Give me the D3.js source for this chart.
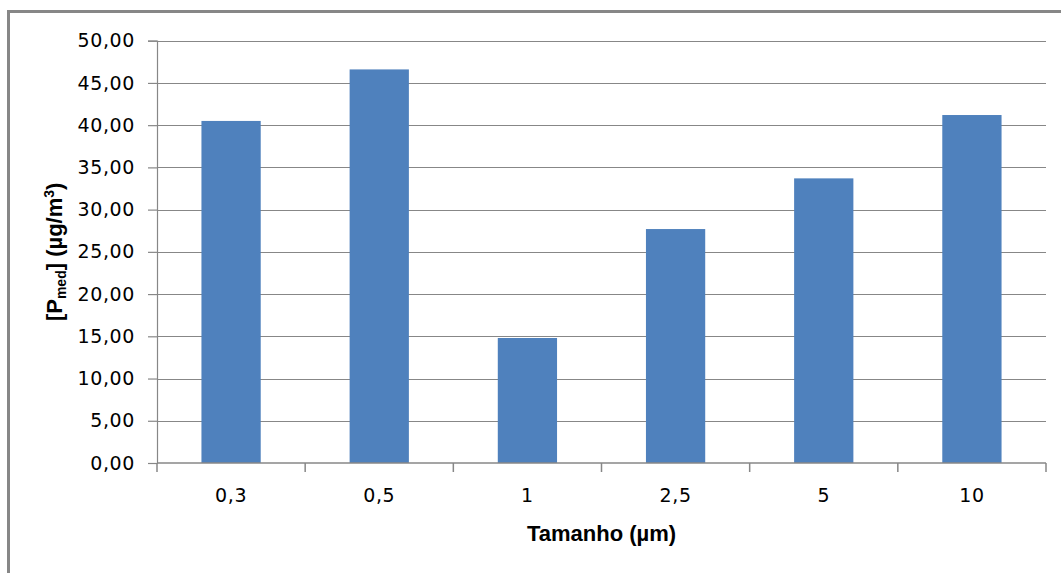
<!DOCTYPE html>
<html>
<head>
<meta charset="utf-8">
<script src="https://cdn.jsdelivr.net/npm/d3@7/dist/d3.min.js"></script>
<style>
  html, body { margin: 0; padding: 0; background: #fff; }
  svg { display: block; }
  .tick text { font-family: "DejaVu Sans", sans-serif; fill: #000; }
</style>
</head>
<body>
<svg id="chart" width="1061" height="573"></svg>
<script>
// Particle size classes (µm) and mean concentration per class
const categories = ["0,3", "0,5", "1", "2,5", "5", "10"];
const concentrations = [40.5, 46.6, 14.8, 27.7, 33.7, 41.2];
const yTicks = [0, 5, 10, 15, 20, 25, 30, 35, 40, 45, 50];

const W = 1061, H = 573;
const plot = { left: 157, right: 1046, top: 40.7, bottom: 463 };
const gridColor = "#878787";
const barColor = "#4F81BD";

const svg = d3.select("#chart");

// outer chart frame
svg.append("rect")
  .attr("x", 8.5).attr("y", 11.5)
  .attr("width", W + 20).attr("height", H + 20)
  .attr("fill", "#fff")
  .attr("stroke", gridColor)
  .attr("stroke-width", 3);

const x = d3.scaleBand()
  .domain(categories)
  .range([plot.left, plot.right])
  .paddingInner(0.6)
  .paddingOuter(0.3);

const y = d3.scaleLinear()
  .domain([0, 50])
  .range([plot.bottom, plot.top]);

const ptBR = d3.formatLocale({ decimal: ",", thousands: ".", grouping: [3], currency: ["R$", ""] });
const fmt = ptBR.format(".2f");

// horizontal gridlines
svg.append("g")
  .selectAll("line")
  .data(yTicks.filter(d => d > 0))
  .join("line")
  .attr("x1", plot.left).attr("x2", plot.right)
  .attr("y1", d => Math.round(y(d)) + 0.5)
  .attr("y2", d => Math.round(y(d)) + 0.5)
  .attr("stroke", gridColor)
  .attr("stroke-width", 1.2);

// bars
svg.append("g")
  .selectAll("rect")
  .data(concentrations)
  .join("rect")
  .attr("x", (d, i) => x(categories[i]))
  .attr("width", x.bandwidth())
  .attr("y", d => y(d))
  .attr("height", d => y(0) - y(d))
  .attr("fill", barColor);

// y axis
const yAxis = svg.append("g")
  .attr("transform", `translate(${plot.left},0)`)
  .call(d3.axisLeft(y).tickValues(yTicks).tickFormat(fmt).tickSize(9).tickPadding(13));
yAxis.select(".domain").attr("stroke", gridColor).attr("stroke-width", 1.2);
yAxis.selectAll(".tick line").attr("stroke", gridColor).attr("stroke-width", 1.2);
yAxis.selectAll(".tick text").style("font-size", "19px").style("letter-spacing", "0.6px");

// x axis baseline and category boundary ticks
const step = x.step();
const boundaries = d3.range(categories.length + 1).map(i => plot.left + i * step);
const xAxis = svg.append("g");
xAxis.append("line")
  .attr("x1", plot.left).attr("x2", plot.right)
  .attr("y1", y(0)).attr("y2", y(0))
  .attr("stroke", gridColor).attr("stroke-width", 1.5);
xAxis.selectAll("line.b")
  .data(boundaries)
  .join("line")
  .attr("class", "b")
  .attr("x1", d => d).attr("x2", d => d)
  .attr("y1", y(0)).attr("y2", y(0) + 9)
  .attr("stroke", gridColor).attr("stroke-width", 1.5);
xAxis.selectAll("text")
  .data(categories)
  .join("text")
  .attr("x", d => x(d) + x.bandwidth() / 2)
  .attr("y", y(0) + 39)
  .attr("text-anchor", "middle")
  .style("font-family", "DejaVu Sans, sans-serif")
  .style("font-size", "19px")
  .style("letter-spacing", "0.6px")
  .text(d => d);

// axis titles
svg.append("text")
  .attr("x", (plot.left + plot.right) / 2)
  .attr("y", 541)
  .attr("text-anchor", "middle")
  .style("font-family", "Liberation Sans, sans-serif")
  .style("font-weight", "bold")
  .style("font-size", "22px")
  .text("Tamanho (µm)");

const yTitle = svg.append("text")
  .attr("transform", `translate(62,${(plot.top + plot.bottom) / 2}) rotate(-90)`)
  .attr("text-anchor", "middle")
  .style("font-family", "Liberation Sans, sans-serif")
  .style("font-weight", "bold")
  .style("font-size", "22px");
yTitle.append("tspan").text("[P");
yTitle.append("tspan").attr("dy", 4).style("font-size", "14px").text("med");
yTitle.append("tspan").attr("dy", -4).text("] (µg/m");
yTitle.append("tspan").attr("dy", -8).style("font-size", "14px").text("3");
yTitle.append("tspan").attr("dy", 8).text(")");
</script>
</body>
</html>
